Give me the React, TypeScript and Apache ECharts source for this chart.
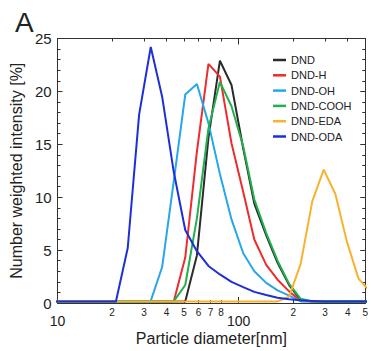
import React, { useEffect, useRef } from 'react';
import * as echarts from 'echarts';

// Size bins of the DLS instrument (nm), log-spaced
const diameters = [8.72, 10.1, 11.7, 13.5, 15.7, 18.2, 21.0, 24.4, 28.2, 32.7, 37.8, 43.8, 50.7, 58.8, 68.1, 78.8, 91.3, 106, 122, 142, 164, 190, 220, 255, 295, 342, 396, 459, 531];

// Number weighted intensity (%) per bin
const dnd = [0.15, 0.15, 0.15, 0.15, 0.15, 0.15, 0.15, 0.15, 0.15, 0.15, 0.15, 0.15, 0.15, 4.5, 15.6, 22.9, 20.6, 14.6, 9.4, 6.4, 3.8, 1.7, 0.3, 0.15, 0.15, 0.15, 0.15, 0.15, 0.15];
const dndH = [0.15, 0.15, 0.15, 0.15, 0.15, 0.15, 0.15, 0.15, 0.15, 0.15, 0.15, 0.15, 4.3, 14.3, 22.6, 21.4, 15.1, 10.5, 6.0, 3.6, 2.2, 1.1, 0.2, 0.15, 0.15, 0.15, 0.15, 0.15, 0.15];
const dndOH = [0.15, 0.15, 0.15, 0.15, 0.15, 0.15, 0.15, 0.15, 0.15, 0.2, 3.4, 11.5, 19.7, 20.7, 17.0, 12.2, 7.9, 4.7, 3.0, 1.9, 1.2, 0.7, 0.15, 0.15, 0.15, 0.15, 0.15, 0.15, 0.15];
const dndCOOH = [0.15, 0.15, 0.15, 0.15, 0.15, 0.15, 0.15, 0.15, 0.15, 0.15, 0.15, 0.15, 1.7, 8.0, 16.5, 20.9, 18.6, 14.8, 9.8, 6.6, 4.0, 1.8, 0.4, 0.15, 0.15, 0.15, 0.15, 0.15, 0.15];
const dndEDA = [0.15, 0.15, 0.15, 0.15, 0.15, 0.15, 0.15, 0.15, 0.15, 0.15, 0.15, 0.15, 0.15, 0.15, 0.15, 0.15, 0.15, 0.15, 0.15, 0.15, 0.15, 0.6, 3.7, 9.6, 12.6, 10.3, 5.8, 2.3, 1.1];
const dndODA = [0.15, 0.15, 0.15, 0.15, 0.15, 0.15, 0.15, 5.2, 17.8, 24.2, 19.5, 12.4, 6.9, 4.9, 3.5, 2.7, 2.0, 1.5, 1.05, 0.75, 0.5, 0.35, 0.25, 0.2, 0.15, 0.15, 0.15, 0.15, 0.15];

const seriesNames = ['DND', 'DND-H', 'DND-OH', 'DND-COOH', 'DND-EDA', 'DND-ODA'];
const seriesValues = [dnd, dndH, dndOH, dndCOOH, dndEDA, dndODA];
const seriesColors = ['#2b2b2b', '#ee2b2e', '#27a6ea', '#20b04c', '#f7b230', '#1d2fd6'];

// x-axis ticks: minor (2..8 within each decade) and decade labels
const minorTicks = [20, 30, 40, 50, 60, 70, 80, 200, 300, 400, 500];
const majorTicks = [10, 100];

const FONT = '"Liberation Sans", Arial, Helvetica, sans-serif';
const INK = '#222';

export default function App() {
  const ref = useRef<HTMLDivElement>(null);

  useEffect(() => {
    if (!ref.current) return;
    const chart = echarts.init(ref.current, undefined, { renderer: 'svg' });

    const xBase = {
      type: 'log' as const,
      logBase: 10,
      min: 10,
      max: 500,
      splitLine: { show: false },
      minorTick: { show: false },
      axisLine: { show: true, lineStyle: { color: '#333', width: 1 } },
    };

    const yBase = {
      type: 'value' as const,
      min: 0,
      max: 25,
      interval: 5,
      splitLine: { show: false },
      axisLine: { show: true, lineStyle: { color: '#333', width: 1 } },
      axisTick: { show: true, inside: true, length: 5, lineStyle: { color: '#333' } },
      minorTick: { show: true, splitNumber: 5, length: 3, lineStyle: { color: '#333' } },
    };

    chart.setOption({
      animation: false,
      backgroundColor: '#fff',
      title: {
        text: 'A',
        left: 10,
        top: 3,
        textStyle: { fontFamily: FONT, fontSize: 28, fontWeight: 'normal', color: INK },
      },
      grid: { left: 55, right: 4.5, top: 38.5, bottom: 46 },
      legend: {
        orient: 'vertical',
        left: 273,
        top: 53.5,
        padding: 0,
        itemWidth: 13,
        itemHeight: 2.5,
        itemGap: 2.3,
        icon: 'rect',
        data: seriesNames,
        textStyle: { fontFamily: FONT, fontSize: 11, color: INK, lineHeight: 13 },
      },
      xAxis: [
        {
          ...xBase,
          position: 'bottom',
          name: 'Particle diameter[nm]',
          nameLocation: 'middle',
          nameGap: 27,
          nameTextStyle: { fontFamily: FONT, fontSize: 16, color: INK },
          axisTick: { show: true, inside: true, length: 3, customValues: minorTicks, lineStyle: { color: '#333' } },
          axisLabel: {
            show: true,
            customValues: minorTicks,
            margin: 4,
            fontFamily: FONT,
            fontSize: 10,
            color: INK,
            formatter: (v: number) => String(Math.round(v / Math.pow(10, Math.floor(Math.log10(v) + 1e-9)))),
          },
        },
        {
          ...xBase,
          position: 'bottom',
          axisTick: { show: true, inside: true, length: 6, customValues: majorTicks, lineStyle: { color: '#333' } },
          axisLabel: {
            show: true,
            customValues: majorTicks,
            margin: 11,
            fontFamily: FONT,
            fontSize: 14,
            color: INK,
          },
        },
        {
          ...xBase,
          position: 'top',
          axisTick: { show: true, inside: true, length: 3, customValues: minorTicks, lineStyle: { color: '#333' } },
          axisLabel: { show: false },
        },
        {
          ...xBase,
          position: 'top',
          axisTick: { show: true, inside: true, length: 6, customValues: majorTicks, lineStyle: { color: '#333' } },
          axisLabel: { show: false },
        },
      ],
      yAxis: [
        {
          ...yBase,
          position: 'left',
          name: 'Number weighted intensity [%]',
          nameLocation: 'middle',
          nameGap: 28,
          nameTextStyle: { fontFamily: FONT, fontSize: 16, color: INK },
          axisLabel: { show: true, margin: 6, fontFamily: FONT, fontSize: 15, color: INK },
        },
        {
          ...yBase,
          position: 'right',
          axisLabel: { show: false },
        },
      ],
      series: seriesNames.map((name, i) => ({
        name,
        type: 'line',
        xAxisIndex: 0,
        yAxisIndex: 0,
        symbol: 'none',
        clip: true,
        color: seriesColors[i],
        lineStyle: { color: seriesColors[i], width: 2 },
        data: diameters.map((d, j) => [d, seriesValues[i][j]]),
      })),
    });

    return () => chart.dispose();
  }, []);

  return (
    <div
      ref={ref}
      style={{ position: 'fixed', left: 0, top: 0, width: 371, height: 351, background: '#fff' }}
    />
  );
}
